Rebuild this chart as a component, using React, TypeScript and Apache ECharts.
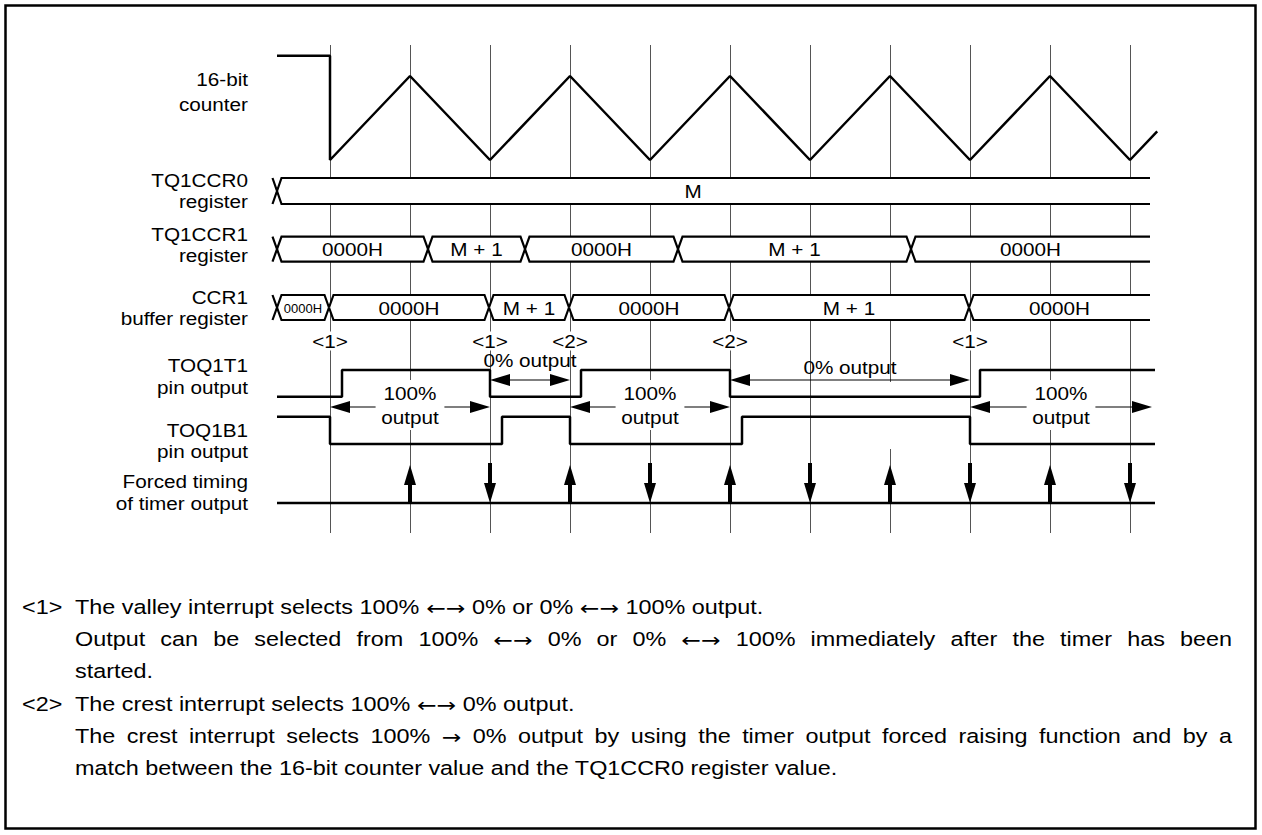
import React, { useEffect, useRef } from 'react';
import * as echarts from 'echarts';

const W = 1262;
const H = 835;

// ---- time base: 1 unit = half a counter period (valley -> crest) ----
const gridTimes = [0, 1, 2, 3, 4, 5, 6, 7, 8, 9, 10];

// 16-bit counter (0 = valley, 1 = crest = M)
const counterT = [-0.6625, 0, 0, 1, 2, 3, 4, 5, 6, 7, 8, 9, 10, 10.34];
const counterV = [1.24, 1.24, 0, 1, 0, 1, 0, 1, 0, 1, 0, 1, 0, 0.34];

// registers (bus segments between edges)
const ccr0Edges = [-0.6625, 10.25];
const ccr0Labels = ['M'];
const ccr0LabelT = [4.54];
const ccr1Edges = [-0.6625, 1.225, 2.4375, 4.35, 7.2625, 10.25];
const ccr1Labels = ['0000H', 'M + 1', '0000H', 'M + 1', '0000H'];
const bufEdges = [-0.6625, -0.0125, 1.9875, 2.9875, 4.9875, 7.9875, 10.25];
const bufLabels = ['0000H', '0000H', 'M + 1', '0000H', 'M + 1', '0000H'];

// pin outputs (level starting at each time)
const t1Times = [-0.6625, 0.15, 2, 3.1375, 5, 8.125, 10.3125];
const t1Levels = [0, 1, 0, 1, 0, 1, 1];
const b1Times = [-0.6625, 0, 2.15, 3, 5.15, 8, 10.3125];
const b1Levels = [1, 0, 1, 0, 1, 0, 0];

// interrupt markers
const markerTimes = [0, 2, 3, 5, 8];
const markerLabels = ['<1>', '<1>', '<2>', '<2>', '<1>'];

// duty annotations
const spanStart = [0, 2, 3, 5, 8];
const spanEnd = [2, 3, 5, 8, 10.275];
const spanLabels = ['100%\noutput', '0% output', '100%\noutput', '0% output', '100%\noutput'];

// forced timing of timer output
const forcedTimes = [1, 2, 3, 4, 5, 6, 7, 8, 9, 10];
const forcedDir = ['up', 'down', 'up', 'down', 'up', 'down', 'up', 'down', 'up', 'down'];

// left-hand signal names
const signalNames = [
  ['16-bit', 'counter'],
  ['TQ1CCR0', 'register'],
  ['TQ1CCR1', 'register'],
  ['CCR1', 'buffer register'],
  ['TOQ1T1', 'pin output'],
  ['TOQ1B1', 'pin output'],
  ['Forced timing', 'of timer output'],
];

// notes
const noteMarks = ['<1>', '<2>'];
const noteTexts = [
  'The valley interrupt selects 100% \u2190\u2192 0% or 0% \u2190\u2192 100% output.',
  'Output can be selected from 100% \u2190\u2192 0% or 0% \u2190\u2192 100% immediately after the timer has been',
  'started.',
  'The crest interrupt selects 100% \u2190\u2192 0% output.',
  'The crest interrupt selects 100% \u2192 0% output by using the timer output forced raising function and by a',
  'match between the 16-bit counter value and the TQ1CCR0 register value.',
];
const noteJustify = [false, true, false, false, true, false];

// ---------------- layout (pixels) ----------------
const T0_X = 330;
const UNIT = 80;
const T_MIN = -T0_X / UNIT;
const T_MAX = (W - T0_X) / UNIT;
const FONT = '"Liberation Sans", Arial, Helvetica, sans-serif';
const ARROW_FONT = '"DejaVu Sans", sans-serif';
const DSIZE = 18.5;
const DSX = 1.12;
const NSIZE = 19.5;
const NSX = 1.2;

const laneBoxes = [
  { top: 0, height: H }, // 0: overlay (pixel y)
  { top: 76, height: 84 }, // 1 counter
  { top: 178, height: 26 }, // 2 ccr0
  { top: 236.7, height: 25 }, // 3 ccr1
  { top: 295, height: 25 }, // 4 buffer
  { top: 370, height: 26.7 }, // 5 TOQ1T1
  { top: 416.7, height: 27.3 }, // 6 TOQ1B1
  { top: 463, height: 40 }, // 7 forced
];
const nameY = [[79, 104], [180, 201], [234, 255], [297, 318], [365, 387], [430, 451], [481, 503]];
const nameX = 248;
const gridLineTop = 45;
const gridLineBottom = 533;
const gridLineGaps: Record<number, number[]> = { 7: [382, 449] };
const markerY = 341;
const spanArrowY = [407, 380, 407, 380, 407];
const spanLabelY = [405, 360, 405, 367, 405];
const noteY = [608, 640, 672, 705, 737, 769];
const noteMarkY = [608, 705];
const noteX0 = 75;
const noteX1 = 1232;
const noteMarkX = 22;

function txtStyle(text: string, size: number, align: string, valign: string, extra: any = {}) {
  return {
    text,
    font: `${size}px ${FONT}`,
    fill: '#000',
    textAlign: align,
    align,
    textVerticalAlign: valign,
    verticalAlign: valign,
    ...extra,
  };
}

const isArrow = (w: string) => /^[\u2190\u2192]+$/.test(w);

function busSeries(idx: number, edges: number[], labels: string[], labelT?: number[]) {
  return {
    type: 'custom',
    xAxisIndex: idx,
    yAxisIndex: idx,
    z: 3,
    silent: true,
    data: labels.map((_, i) => [edges[i], edges[i + 1]]),
    renderItem: (params: any, api: any) => {
      const i = params.dataIndex;
      const xs = api.coord([api.value(0), 0])[0];
      const xe = api.coord([api.value(1), 0])[0];
      const top = api.coord([0, 1])[1];
      const bot = api.coord([0, 0])[1];
      const mid = (top + bot) / 2;
      const h = 4.5;
      const last = i === labels.length - 1;
      const first = i === 0;
      const topPts: number[][] = [[xs, mid], [xs + h, top]];
      const botPts: number[][] = [[xs, mid], [xs + h, bot]];
      if (last) {
        topPts.push([xe, top]);
        botPts.push([xe, bot]);
      } else {
        topPts.push([xe - h, top], [xe, mid]);
        botPts.push([xe - h, bot], [xe, mid]);
      }
      const poly = last
        ? [[xs, mid], [xs + h, top], [xe, top], [xe, bot], [xs + h, bot]]
        : [[xs, mid], [xs + h, top], [xe - h, top], [xe, mid], [xe - h, bot], [xs + h, bot]];
      const line = { stroke: '#000', lineWidth: 2.2, fill: 'none' };
      const children: any[] = [
        { type: 'polygon', shape: { points: poly }, style: { fill: '#fff' } },
        { type: 'polyline', shape: { points: topPts }, style: line },
        { type: 'polyline', shape: { points: botPts }, style: line },
      ];
      if (first) {
        children.push({ type: 'polyline', shape: { points: [[xs - h, top], [xs, mid], [xs - h, bot]] }, style: line });
      }
      const lx = labelT ? api.coord([labelT[i], 0])[0] : (xs + xe) / 2;
      const small = xe - xs < 70;
      children.push({
        type: 'text',
        x: lx,
        y: mid + 0.5,
        scaleX: small ? 1 : DSX,
        style: txtStyle(labels[i], small ? 13 : DSIZE, 'center', 'middle'),
      });
      return { type: 'group', children };
    },
  };
}

export default function App() {
  const ref = useRef<HTMLDivElement>(null);

  useEffect(() => {
    document.body.style.margin = '0';
    if (!ref.current) return;
    const chart = echarts.init(ref.current, null, { renderer: 'svg' });

    const grids = laneBoxes.map((b) => ({ left: 0, width: W, top: b.top, height: b.height, containLabel: false, show: false }));
    const xAxes = laneBoxes.map((_, i) => ({ type: 'value', gridIndex: i, min: T_MIN, max: T_MAX, show: false }));
    const yAxes = laneBoxes.map((_, i) =>
      i === 0
        ? { type: 'value', gridIndex: 0, min: 0, max: H, inverse: true, show: false }
        : { type: 'value', gridIndex: i, min: 0, max: 1, show: false }
    );

    const sigLine = { color: '#000', width: 2.5 };

    // measuring for justified notes
    const canvas = document.createElement('canvas');
    const ctx = canvas.getContext('2d') as CanvasRenderingContext2D;
    const nfont = `${NSIZE}px ${FONT}`;
    const afont = `${NSIZE}px ${ARROW_FONT}`;
    const measure = (w: string) => {
      ctx.font = isArrow(w) ? afont : nfont;
      return ctx.measureText(w).width;
    };
    const richNote = { arr: { font: afont, fill: '#000' } };

    const graphics: any[] = [
      {
        type: 'rect',
        shape: { x: 5.5, y: 5.5, width: 1250, height: 823 },
        style: { fill: 'none', stroke: '#000', lineWidth: 2.5 },
        z: 100,
      },
    ];
    signalNames.forEach((pair, i) => {
      pair.forEach((s, j) => {
        graphics.push({
          type: 'text',
          x: nameX,
          y: nameY[i][j],
          scaleX: DSX,
          style: txtStyle(s, DSIZE, 'right', 'middle'),
          z: 100,
        });
      });
    });
    noteMarks.forEach((m, i) => {
      graphics.push({
        type: 'text',
        x: noteMarkX,
        y: noteMarkY[i],
        scaleX: NSX,
        style: txtStyle(m, NSIZE, 'left', 'middle'),
        z: 100,
      });
    });
    noteTexts.forEach((line, i) => {
      if (!noteJustify[i]) {
        const rich = line.replace(/(\u2190\u2192|\u2192)/g, '{arr|$1}');
        graphics.push({
          type: 'text',
          x: noteX0,
          y: noteY[i],
          scaleX: NSX,
          style: txtStyle(rich, NSIZE, 'left', 'middle', { rich: richNote }),
          z: 100,
        });
      } else {
        const words = line.split(' ');
        const widths = words.map((w) => measure(w) * NSX);
        const sum = widths.reduce((a, b) => a + b, 0);
        const gap = (noteX1 - noteX0 - sum) / (words.length - 1);
        let x = noteX0;
        words.forEach((w, k) => {
          const st = txtStyle(w, NSIZE, 'left', 'middle');
          if (isArrow(w)) st.font = afont;
          graphics.push({ type: 'text', x, y: noteY[i], scaleX: NSX, style: st, z: 100 });
          x += widths[k] + gap;
        });
      }
    });

    const series: any[] = [
      // vertical timing grid lines
      {
        type: 'custom',
        xAxisIndex: 0,
        yAxisIndex: 0,
        z: 1,
        silent: true,
        data: gridTimes.map((t) => [t]),
        renderItem: (params: any, api: any) => {
          const t = api.value(0);
          const x = Math.round(api.coord([t, 0])[0]) + 0.5;
          const y0 = api.coord([t, gridLineTop])[1];
          const y1 = api.coord([t, gridLineBottom])[1];
          const gap = gridLineGaps[t];
          const segs = gap ? [[y0, gap[0]], [gap[1], y1]] : [[y0, y1]];
          return {
            type: 'group',
            children: segs.map((s) => ({
              type: 'line',
              shape: { x1: x, y1: s[0], x2: x, y2: s[1] },
              style: { stroke: '#555', lineWidth: 1 },
            })),
          };
        },
      },
      // counter
      {
        type: 'line',
        xAxisIndex: 1,
        yAxisIndex: 1,
        data: counterT.map((t, i) => [t, counterV[i]]),
        symbol: 'none',
        lineStyle: sigLine,
        clip: false,
        z: 6,
        silent: true,
      },
      busSeries(2, ccr0Edges, ccr0Labels, ccr0LabelT),
      busSeries(3, ccr1Edges, ccr1Labels),
      busSeries(4, bufEdges, bufLabels),
      // interrupt markers
      {
        type: 'custom',
        xAxisIndex: 0,
        yAxisIndex: 0,
        z: 4,
        silent: true,
        data: markerTimes.map((t) => [t]),
        renderItem: (params: any, api: any) => {
          const p = api.coord([api.value(0), markerY]);
          return {
            type: 'text',
            x: p[0],
            y: p[1],
            scaleX: DSX,
            style: txtStyle(markerLabels[params.dataIndex], DSIZE, 'center', 'middle', {
              backgroundColor: '#fff',
              padding: [0, 1],
            }),
          };
        },
      },
      // duty annotations
      {
        type: 'custom',
        xAxisIndex: 0,
        yAxisIndex: 0,
        z: 4,
        silent: true,
        data: spanStart.map((t, i) => [t, spanEnd[i]]),
        renderItem: (params: any, api: any) => {
          const i = params.dataIndex;
          const x0 = api.coord([api.value(0), 0])[0];
          const x1 = api.coord([api.value(1), 0])[0];
          const y = api.coord([0, spanArrowY[i]])[1];
          const ly = api.coord([0, spanLabelY[i]])[1];
          const hl = 20;
          const hh = 6;
          const two = spanLabels[i].indexOf('\n') >= 0;
          return {
            type: 'group',
            children: [
              { type: 'line', shape: { x1: x0 + 4, y1: y, x2: x1 - 4, y2: y }, style: { stroke: '#000', lineWidth: 1.2 } },
              { type: 'polygon', shape: { points: [[x0, y], [x0 + hl, y - hh], [x0 + hl, y + hh]] }, style: { fill: '#000' } },
              { type: 'polygon', shape: { points: [[x1, y], [x1 - hl, y - hh], [x1 - hl, y + hh]] }, style: { fill: '#000' } },
              {
                type: 'text',
                x: (x0 + x1) / 2,
                y: ly,
                scaleX: DSX,
                style: txtStyle(
                  spanLabels[i],
                  DSIZE,
                  'center',
                  'middle',
                  two ? { backgroundColor: '#fff', padding: [1, 5], lineHeight: 24 } : {}
                ),
              },
            ],
          };
        },
      },
      // TOQ1T1
      {
        type: 'line',
        xAxisIndex: 5,
        yAxisIndex: 5,
        step: 'end',
        data: t1Times.map((t, i) => [t, t1Levels[i]]),
        symbol: 'none',
        lineStyle: sigLine,
        clip: false,
        z: 6,
        silent: true,
      },
      // TOQ1B1
      {
        type: 'line',
        xAxisIndex: 6,
        yAxisIndex: 6,
        step: 'end',
        data: b1Times.map((t, i) => [t, b1Levels[i]]),
        symbol: 'none',
        lineStyle: sigLine,
        clip: false,
        z: 6,
        silent: true,
      },
      // forced timing baseline
      {
        type: 'line',
        xAxisIndex: 7,
        yAxisIndex: 7,
        data: [[t1Times[0], 0], [t1Times[t1Times.length - 1], 0]],
        symbol: 'none',
        lineStyle: sigLine,
        clip: false,
        z: 6,
        silent: true,
      },
      // forced timing arrows
      {
        type: 'custom',
        xAxisIndex: 7,
        yAxisIndex: 7,
        z: 6,
        silent: true,
        data: forcedTimes.map((t) => [t]),
        renderItem: (params: any, api: any) => {
          const i = params.dataIndex;
          const pb = api.coord([api.value(0), 0]);
          const x = pb[0];
          const yb = pb[1];
          const yt = api.coord([api.value(0), 1])[1];
          const hl = 20;
          const hh = 6;
          const sw = 2;
          if (forcedDir[i] === 'up') {
            const tip = yt + 2;
            const hb = tip + hl;
            return {
              type: 'group',
              children: [
                { type: 'rect', shape: { x: x - sw, y: hb - 1, width: sw * 2, height: yb - hb + 1 }, style: { fill: '#000' } },
                { type: 'polygon', shape: { points: [[x, tip], [x - hh, hb], [x + hh, hb]] }, style: { fill: '#000' } },
              ],
            };
          }
          const hb = yb - hl;
          return {
            type: 'group',
            children: [
              { type: 'rect', shape: { x: x - sw, y: yt, width: sw * 2, height: hb - yt + 1 }, style: { fill: '#000' } },
              { type: 'polygon', shape: { points: [[x, yb], [x - hh, hb], [x + hh, hb]] }, style: { fill: '#000' } },
            ],
          };
        },
      },
    ];

    chart.setOption({
      animation: false,
      backgroundColor: '#fff',
      grid: grids,
      xAxis: xAxes,
      yAxis: yAxes,
      series,
      graphic: graphics,
    });

    return () => chart.dispose();
  }, []);

  return <div ref={ref} style={{ width: W, height: H }} />;
}
